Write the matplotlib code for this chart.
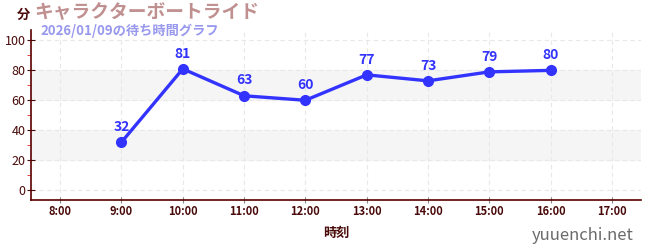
import matplotlib
matplotlib.use("Agg")
import matplotlib.pyplot as plt
from matplotlib.ticker import MultipleLocator

plt.rcParams['font.family'] = ['Noto Sans CJK JP', 'DejaVu Sans']

# 時刻と待ち時間
hours = [9, 10, 11, 12, 13, 14, 15, 16]
waits = [32, 81, 63, 60, 77, 73, 79, 80]
tick_hours = list(range(8, 18))
tick_labels = [f"{h}:00" for h in tick_hours]

title = "キャラクターボートライド"
subtitle = "2026/01/09の待ち時間グラフ"

dark = "#4a0a0a"
blue = "#3333ff"

fig = plt.figure(figsize=(6.5, 2.5), dpi=100)
ax = fig.add_axes([0.048, 0.2, 0.938, 0.68])

# 背景の帯
for lo, hi in [(20, 40), (60, 80)]:
    ax.axhspan(lo, hi, color="#f5f5f5", zorder=0)

ax.plot(hours, waits, color=blue, lw=2.4, marker="o", ms=7, zorder=3)
for h, w in zip(hours, waits):
    ax.annotate(str(w), (h, w), xytext=(0, 6), textcoords="offset points",
                ha="center", va="bottom", color=blue, fontsize=10,
                fontweight="bold")

ax.set_xlim(7.527, 17.473)
ax.set_ylim(-6.7, 107)
ax.set_xticks(tick_hours, tick_labels)
ax.set_yticks(range(0, 101, 20))
ax.yaxis.set_minor_locator(MultipleLocator(10))
ax.grid(True, which="major", color="#e8e8e8", ls=(0, (4, 3)), lw=0.8)
ax.set_axisbelow(True)

for s in ["top", "right"]:
    ax.spines[s].set_visible(False)
for s in ["left", "bottom"]:
    ax.spines[s].set_color("#5a0000")
    ax.spines[s].set_linewidth(1.2)

ax.tick_params(axis="x", colors="#888888", labelcolor=dark, labelsize=8,
               length=5, direction="inout", pad=1)
for lbl in ax.get_xticklabels():
    lbl.set_fontweight("bold")
ax.tick_params(axis="y", which="major", colors=dark, labelsize=9, length=6,
               direction="inout", pad=1)
ax.tick_params(axis="y", which="minor", colors="#dd2222", length=3)

ax.set_xlabel("時刻", color=dark, fontsize=9.5, fontweight="bold", labelpad=6)

fig.text(0.026, 0.94, "分", color=dark, fontsize=9.5, fontweight="bold", va="center")
fig.text(0.053, 0.948, title, color="#c09090", fontsize=13.5, fontweight="bold", va="center")
fig.text(0.062, 0.875, subtitle, color="#9898ee", fontsize=9.5, fontweight="bold", va="center")
fig.text(0.975, 0.058, "yuuenchi.net", color="#6a6a6a", fontsize=12, ha="right", va="center")

fig.savefig("out.png", dpi=100)
